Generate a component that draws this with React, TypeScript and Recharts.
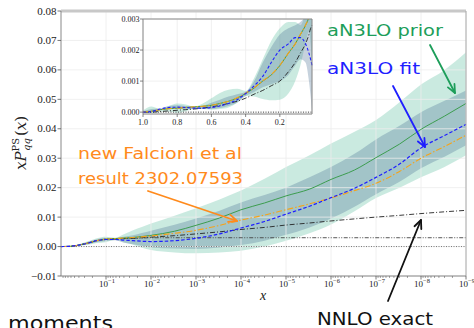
import React from 'react';
import { ComposedChart, Line, Area, XAxis, YAxis, ReferenceLine, CartesianGrid } from 'recharts';

// ---- main panel (log x, reversed) ----
const xMain = [1, 0.6, 0.4, 0.25, 0.16, 0.1, 0.063, 0.04, 0.025, 0.016, 0.01, 3e-3, 1e-3, 3e-4, 1e-4, 3e-5, 1e-5, 3e-6, 1e-6, 3e-7, 1e-7, 3e-8, 1e-8, 3e-9, 1e-9];
const priorMain = [0, 0.0001, 0.0005, 0.0012, 0.002, 0.0025, 0.0027, 0.0029, 0.0031, 0.0034, 0.0038, 0.0052, 0.0072, 0.0097, 0.0125, 0.0148, 0.0172, 0.0195, 0.0228, 0.026, 0.0302, 0.0348, 0.0398, 0.0443, 0.0486];
const fitMain = [0, 0.0001, 0.0005, 0.0012, 0.002, 0.0024, 0.0024, 0.0022, 0.002, 0.0018, 0.0017, 0.002, 0.0028, 0.0043, 0.0063, 0.0085, 0.011, 0.0137, 0.0166, 0.0198, 0.0235, 0.028, 0.0335, 0.0377, 0.0415];
const falcMain = [0, 0.0001, 0.0005, 0.0012, 0.002, 0.0025, 0.0027, 0.0029, 0.0031, 0.0033, 0.0036, 0.0045, 0.0055, 0.0072, 0.009, 0.0107, 0.0125, 0.0145, 0.0165, 0.019, 0.0215, 0.0255, 0.03, 0.034, 0.0378];
const nnloMain = [0, 0.0001, 0.0005, 0.0012, 0.002, 0.0025, 0.0026, 0.0027, 0.0028, 0.003, 0.0032, 0.0037, 0.0043, 0.005, 0.0058, 0.0065, 0.0073, 0.008, 0.0087, 0.0094, 0.01, 0.0106, 0.0112, 0.0118, 0.0123];
const nloMain = [0, 0.0001, 0.0005, 0.0012, 0.002, 0.0025, 0.0026, 0.0027, 0.0028, 0.0029, 0.003, 0.003, 0.003, 0.003, 0.003, 0.003, 0.003, 0.003, 0.003, 0.003, 0.003, 0.003, 0.003, 0.003, 0.003];
const priorLo = [0, 0, 0.0003, 0.0006, 0.0012, 0.0015, 0.0022, 0.0015, 0.0006, -0.0004, -0.0012, -0.002, -0.0023, -0.002, -0.0014, 0, 0.002, 0.0045, 0.0075, 0.012, 0.0165, 0.02, 0.0235, 0.027, 0.031];
const priorHi = [0, 0.0002, 0.0008, 0.0018, 0.0028, 0.0033, 0.003, 0.0042, 0.0055, 0.0066, 0.0078, 0.0105, 0.013, 0.016, 0.019, 0.023, 0.027, 0.031, 0.035, 0.039, 0.043, 0.049, 0.055, 0.06, 0.066];
const fitLo = [0, 0, 0.0004, 0.0008, 0.0015, 0.0018, 0.0021, 0.0013, 0.0008, 0.0003, -0.0003, -0.0007, -0.0008, -0.0003, 0.0005, 0.002, 0.004, 0.0065, 0.0095, 0.0135, 0.0178, 0.022, 0.0266, 0.0305, 0.0344];
const fitHi = [0, 0.0002, 0.0007, 0.0016, 0.0025, 0.003, 0.0029, 0.0033, 0.0038, 0.0046, 0.0054, 0.0074, 0.0095, 0.0122, 0.015, 0.0175, 0.02, 0.0235, 0.027, 0.0315, 0.0364, 0.041, 0.0456, 0.0495, 0.053];

const mainMajor = [1e-1, 1e-2, 1e-3, 1e-4, 1e-5, 1e-6, 1e-7, 1e-8, 1e-9];
const minorMult = [2, 3, 4, 5, 6, 7, 8, 9];
const mainYTicks = [-0.01, 0, 0.01, 0.02, 0.03, 0.04, 0.05, 0.06, 0.07, 0.08];

// ---- inset panel (linear x, reversed) ----
const xIn = [1.0, 0.95, 0.9, 0.85, 0.8, 0.75, 0.7, 0.65, 0.6, 0.55, 0.5, 0.45, 0.4, 0.35, 0.3, 0.25, 0.2, 0.15, 0.11, 0.08, 0.05, 0.03, 0.02, 0.012];
const priorIn = [0, 0.00003, 0.00008, 0.00011, 0.00013, 0.00015, 0.00017, 0.00019, 0.00022, 0.00028, 0.00035, 0.00045, 0.0006, 0.00078, 0.001, 0.0012, 0.0015, 0.0019, 0.0022, 0.0025, 0.0028, 0.0031, 0.0035, 0.0045];
const falcIn = [0, 0.00003, 0.00008, 0.00011, 0.00013, 0.00015, 0.00017, 0.00019, 0.00022, 0.00028, 0.00035, 0.00046, 0.00061, 0.00079, 0.00101, 0.00121, 0.00151, 0.0019, 0.0022, 0.0025, 0.0028, 0.0031, 0.0035, 0.0045];
const nnloIn = [0, 0, 0.00002, 0.00004, 0.00006, 0.00008, 0.0001, 0.00013, 0.00017, 0.00022, 0.00028, 0.00035, 0.00045, 0.00058, 0.0007, 0.00085, 0.001, 0.0013, 0.0016, 0.0019, 0.0022, 0.0025, 0.0027, 0.0028];
const fitIn = [0, 0.00002, 0.0001, 0.00015, 0.00016, 0.00015, 0.00013, 0.00013, 0.00015, 0.0002, 0.00028, 0.0004, 0.0006, 0.00085, 0.00115, 0.0016, 0.002, 0.0022, 0.0024, 0.0024, 0.0022, 0.0019, 0.0017, 0.0015];
const priorInLo = [0, -0.00003, 0.00002, 0.00002, -0.00002, 0.00003, 0.0001, 0.0001, 0.00008, 0.0001, 0.00015, 0.0003, 0.00052, 0.0005, 0.00042, 0.00038, 0.0004, 0.0006, 0.001, 0.0015, 0.0022, 0.0026, 0.0022, 0.0015];
const priorInHi = [0.00005, 0.00018, 0.0001, 0.0002, 0.00028, 0.00025, 0.00018, 0.00028, 0.00045, 0.00062, 0.00072, 0.00075, 0.00068, 0.0011, 0.0017, 0.0023, 0.0027, 0.0029, 0.0029, 0.0028, 0.0032, 0.0036, 0.004, 0.005];
const fitInLo = [0, 0, 0.00005, 0.0001, 0.0001, 0.0001, 0.0001, 0.0001, 0.0001, 0.00013, 0.0002, 0.0003, 0.00052, 0.00065, 0.0008, 0.0009, 0.001, 0.0012, 0.0015, 0.0017, 0.0016, 0.001, 0.0005, 0];
const fitInHi = [0.00003, 0.0001, 0.00012, 0.0002, 0.00022, 0.0002, 0.00017, 0.0002, 0.0003, 0.0004, 0.0005, 0.00058, 0.00065, 0.001, 0.0016, 0.0021, 0.0025, 0.0027, 0.0028, 0.0029, 0.0031, 0.0033, 0.0035, 0.0035];

const inXTicks = [1.0, 0.8, 0.6, 0.4, 0.2];
const inYTicks = [0, 0.001, 0.002, 0.003];

const mainData = xMain.map((x, i) => ({
  x,
  prior: priorMain[i],
  fit: fitMain[i],
  falc: falcMain[i],
  nnlo: nnloMain[i],
  nlo: nloMain[i],
  priorBand: [priorLo[i], priorHi[i]],
  fitBand: [fitLo[i], fitHi[i]],
}));

const insetData = xIn.map((x, i) => ({
  x,
  prior: priorIn[i],
  fit: fitIn[i],
  falc: falcIn[i],
  nnlo: nnloIn[i],
  priorBand: [priorInLo[i], priorInHi[i]],
  fitBand: [fitInLo[i], fitInHi[i]],
}));

const mainXTicks = [...mainMajor, ...mainMajor.flatMap((p) => minorMult.map((m) => m * p))];

const SERIF = '"Liberation Serif", "DejaVu Serif", serif';
const SANS = '"DejaVu Sans", Verdana, sans-serif';
const TEAL = '#66c2a5';
const FITC = '#4f7394';
const GREEN = '#3c9d4f';
const BLUE = '#1f1fff';
const ORANGE = '#f5a31a';

const MainXTick = (props: any) => {
  const { x, y, payload } = props;
  const v = payload.value;
  const exp = Math.round(Math.log10(v));
  const major = Math.abs(v - Math.pow(10, exp)) / v < 1e-6;
  if (!major) return <line x1={x} x2={x} y1={y} y2={y + 2} stroke="#666" strokeWidth={0.6} />;
  return (
    <g>
      <line x1={x} x2={x} y1={y} y2={y + 3.5} stroke="#555" strokeWidth={0.8} />
      <text x={x + 1} y={y + 11} textAnchor="middle" fontFamily={SERIF} fontSize={9} fill="#222">
        10<tspan fontSize={6.5} dy={-4}>{'\u2212' + -exp}</tspan>
      </text>
    </g>
  );
};

const MainYTick = (props: any) => {
  const { x, y, payload } = props;
  const v = payload.value;
  const s = (v < 0 ? '\u2212' : '') + Math.abs(v).toFixed(2);
  return (
    <g>
      <line x1={x - 3.5} x2={x} y1={y} y2={y} stroke="#555" strokeWidth={0.8} />
      <text x={x - 4.5} y={y + 3.5} textAnchor="end" fontFamily={SERIF} fontSize={11} fill="#222">{s}</text>
    </g>
  );
};

const InXTick = (props: any) => {
  const { x, y, payload } = props;
  return (
    <g>
      <line x1={x} x2={x} y1={y} y2={y + 3} stroke="#555" strokeWidth={0.7} />
      <text x={x} y={y + 11} textAnchor="middle" fontFamily={SERIF} fontSize={8} fill="#222">{payload.value.toFixed(1)}</text>
    </g>
  );
};

const InYTick = (props: any) => {
  const { x, y, payload } = props;
  return (
    <g>
      <line x1={x - 3} x2={x} y1={y} y2={y} stroke="#555" strokeWidth={0.7} />
      <text x={x - 3.5} y={y + 2.8} textAnchor="end" fontFamily={SERIF} fontSize={8} fill="#222">{payload.value.toFixed(3)}</text>
    </g>
  );
};

function Arrow({ x1, y1, x2, y2, color }: { x1: number; y1: number; x2: number; y2: number; color: string }) {
  const a = Math.atan2(y2 - y1, x2 - x1);
  const L = 9;
  const w = 0.42;
  const p1 = `${x2 - L * Math.cos(a - w)},${y2 - L * Math.sin(a - w)}`;
  const p2 = `${x2 - L * Math.cos(a + w)},${y2 - L * Math.sin(a + w)}`;
  return (
    <g stroke={color} strokeWidth={1.8} fill="none" strokeLinecap="round" strokeLinejoin="round">
      <line x1={x1} y1={y1} x2={x2} y2={y2} />
      <polyline points={`${p1} ${x2},${y2} ${p2}`} />
    </g>
  );
}

function Overlay() {
  return (
    <svg width={474} height={328} style={{ position: 'absolute', left: 0, top: 0, pointerEvents: 'none' }}>
      <g transform="translate(26,143) rotate(-90)">
        <text x={0} y={0} textAnchor="middle" fontFamily='"DejaVu Serif", serif' fontSize={15} fill="#222">
          <tspan fontStyle="italic">xP</tspan>
          <tspan fontSize={10} dy={-7}>PS</tspan>
          <tspan fontSize={10} fontStyle="italic" dx={-13} dy={11}>qq</tspan>
          <tspan dy={-4} dx={2}>(</tspan>
          <tspan fontStyle="italic">x</tspan>
          <tspan>)</tspan>
        </text>
      </g>
      <text x={263} y={300} textAnchor="middle" fontFamily={SERIF} fontStyle="italic" fontSize={14} fill="#222">x</text>

      <text x={327} y={35.5} fontFamily={SANS} fontSize={16} fill="#1d9e5a" textLength={116} lengthAdjust="spacingAndGlyphs">aN3LO prior</text>
      <text x={327} y={74} fontFamily={SANS} fontSize={16} fill={BLUE} textLength={93} lengthAdjust="spacingAndGlyphs">aN3LO fit</text>
      <text x={78} y={159} fontFamily={SANS} fontSize={16} fill="#ff8a1c" textLength={164} lengthAdjust="spacingAndGlyphs">new Falcioni et al</text>
      <text x={78} y={183.5} fontFamily={SANS} fontSize={16} fill="#ff8a1c" textLength={165} lengthAdjust="spacingAndGlyphs">result 2302.07593</text>
      <text x={317} y={325} fontFamily={SANS} fontSize={17} fill="#111" textLength={116} lengthAdjust="spacingAndGlyphs">NNLO exact</text>
      <text x={8} y={330} fontFamily={SANS} fontSize={20} fill="#111" textLength={105} lengthAdjust="spacingAndGlyphs">moments</text>

      <Arrow x1={430} y1={45} x2={455} y2={93} color="#1d9e5a" />
      <Arrow x1={393} y1={86} x2={425} y2={147} color={BLUE} />
      <Arrow x1={148} y1={191} x2={237} y2={221} color="#ff8a1c" />
      <Arrow x1={388} y1={301} x2={421} y2={220} color="#111" />
    </svg>
  );
}

function MainChart() {
  return (
    <ComposedChart width={474} height={328} data={mainData} margin={{ top: 11, right: 8, bottom: 22, left: 0 }}>
      {mainMajor.map((v) => (
        <ReferenceLine key={'gx' + v} x={v} stroke="#ececec" strokeWidth={0.8} />
      ))}
      {mainYTicks.map((v) => (
        <ReferenceLine key={'gy' + v} y={v} stroke="#ececec" strokeWidth={0.8} />
      ))}
      <XAxis
        dataKey="x"
        type="number"
        scale="log"
        domain={[1e-9, 1]}
        reversed
        ticks={mainXTicks}
        interval={0}
        tick={<MainXTick />}
        tickLine={false}
        tickSize={0}
        tickMargin={0}
        height={30}
        axisLine={{ stroke: '#888', strokeWidth: 1 }}
      />
      <YAxis
        type="number"
        domain={[-0.01, 0.08]}
        ticks={mainYTicks}
        interval={0}
        tick={<MainYTick />}
        tickLine={false}
        tickSize={0}
        tickMargin={0}
        width={61}
        axisLine={{ stroke: '#888', strokeWidth: 1 }}
      />
      <Area dataKey="priorBand" type="monotone" stroke="none" fill={TEAL} fillOpacity={0.35} isAnimationActive={false} />
      <Area dataKey="fitBand" type="monotone" stroke="none" fill={FITC} fillOpacity={0.32} isAnimationActive={false} />
      <ReferenceLine y={0} stroke="#777" strokeDasharray="1 1.5" strokeWidth={1} />
      <Line dataKey="nlo" type="monotone" stroke="#444" strokeWidth={0.9} strokeDasharray="4 1.5 1 1.5 1 1.5" dot={false} isAnimationActive={false} />
      <Line dataKey="nnlo" type="monotone" stroke="#222" strokeWidth={0.9} strokeDasharray="5 2 1 2" dot={false} isAnimationActive={false} />
      <Line dataKey="prior" type="monotone" stroke={GREEN} strokeWidth={1} dot={false} isAnimationActive={false} />
      <Line dataKey="falc" type="monotone" stroke={ORANGE} strokeWidth={1.1} strokeDasharray="6 2 1.5 2" dot={false} isAnimationActive={false} />
      <Line dataKey="fit" type="monotone" stroke={BLUE} strokeWidth={1.2} strokeDasharray="3.5 2" dot={false} isAnimationActive={false} />
      <ReferenceLine y={0.08} stroke="#c8c8c8" strokeWidth={3} />
      <ReferenceLine x={1e-9} stroke="#aaa" strokeWidth={1} />
    </ComposedChart>
  );
}

function InsetChart() {
  return (
    <ComposedChart width={205} height={115} data={insetData} margin={{ top: 4, right: 6, bottom: 4, left: 0 }}>
      <CartesianGrid stroke="#ececec" strokeWidth={0.8} fill="#fff" />
      <XAxis
        dataKey="x"
        type="number"
        domain={[0.012, 1]}
        reversed
        ticks={inXTicks}
        interval={0}
        tick={<InXTick />}
        tickLine={false}
        tickSize={0}
        tickMargin={0}
        height={12}
        axisLine={{ stroke: '#888', strokeWidth: 1 }}
      />
      <YAxis
        type="number"
        domain={[-0.00006, 0.003]}
        allowDataOverflow
        ticks={inYTicks}
        interval={0}
        tick={<InYTick />}
        tickLine={false}
        tickSize={0}
        tickMargin={0}
        width={30}
        axisLine={{ stroke: '#888', strokeWidth: 1 }}
      />
      <Area dataKey="priorBand" type="monotone" stroke="none" fill={TEAL} fillOpacity={0.35} isAnimationActive={false} />
      <Area dataKey="fitBand" type="monotone" stroke="none" fill={FITC} fillOpacity={0.32} isAnimationActive={false} />
      <ReferenceLine y={0} stroke="#333" strokeDasharray="1 1.5" strokeWidth={0.9} />
      <Line dataKey="nnlo" type="monotone" stroke="#222" strokeWidth={0.9} strokeDasharray="5 2 1 2" dot={false} isAnimationActive={false} />
      <Line dataKey="prior" type="monotone" stroke={GREEN} strokeWidth={1} dot={false} isAnimationActive={false} />
      <Line dataKey="falc" type="monotone" stroke={ORANGE} strokeWidth={1.1} strokeDasharray="6 2 1.5 2" dot={false} isAnimationActive={false} />
      <Line dataKey="fit" type="monotone" stroke={BLUE} strokeWidth={1.1} strokeDasharray="3 2" dot={false} isAnimationActive={false} />
      <ReferenceLine y={0.003} stroke="#888" strokeWidth={1} />
      <ReferenceLine x={0.012} stroke="#888" strokeWidth={1} />
    </ComposedChart>
  );
}

export default function App() {
  return (
    <div style={{ position: 'absolute', left: 0, top: 0, width: 474, height: 328, background: '#fff', overflow: 'hidden' }}>
      <div style={{ position: 'absolute', left: 0, top: 0 }}>
        <MainChart />
      </div>
      <div style={{ position: 'absolute', left: 113, top: 15 }}>
        <InsetChart />
      </div>
      <Overlay />
    </div>
  );
}
